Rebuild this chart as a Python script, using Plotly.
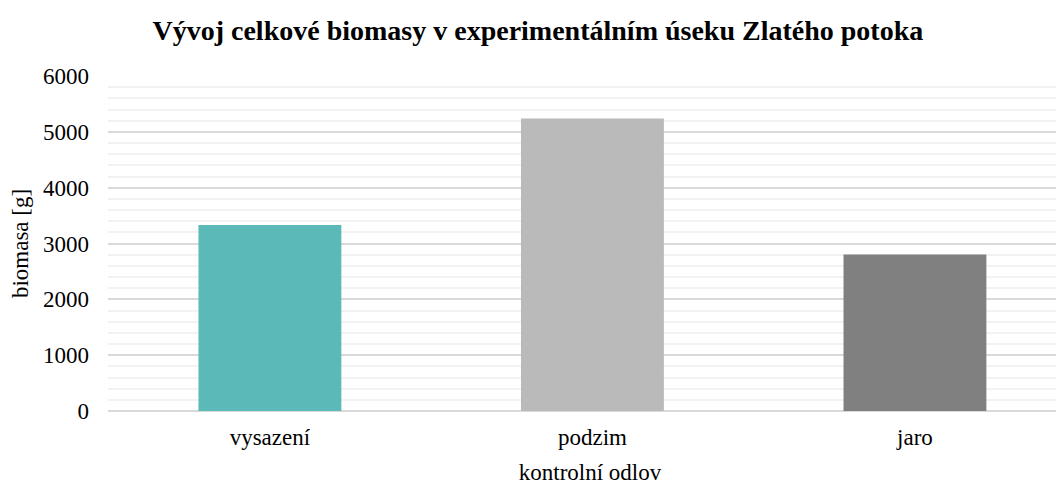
import plotly.graph_objects as go

categories = ["vysazení", "podzim", "jaro"]
biomass = [3330, 5240, 2805]
colors = ["#5BBAB7", "#BABABA", "#808080"]
y_ticks = [0, 1000, 2000, 3000, 4000, 5000, 6000]

FONT = "Liberation Serif"

fig = go.Figure(go.Bar(
    x=categories, y=biomass, marker=dict(color=colors, line=dict(width=0)),
))

fig.update_layout(
    width=1064, height=488,
    margin=dict(l=100, r=0, t=68, b=85),
    paper_bgcolor="white", plot_bgcolor="white",
    bargap=0.557,
    showlegend=False,
    font=dict(family=FONT, color="#000000", size=23),
    title=dict(
        text="<b>Vývoj celkové biomasy v experimentálním úseku Zlatého potoka</b>",
        x=0.498, xanchor="center", y=0.955, yanchor="middle",
        font=dict(family=FONT, size=28, color="#000000"),
    ),
    xaxis=dict(
        type="category", range=[-0.502, 2.487],
        showgrid=False, showline=False, ticks="",
        tickfont=dict(family=FONT, size=23),
        ticklabelstandoff=10,
        title=dict(text="kontrolní odlov", font=dict(family=FONT, size=23), standoff=14),
    ),
    yaxis=dict(
        range=[0, 6000], tickvals=y_ticks, ticktext=[str(v) for v in y_ticks],
        showgrid=True, gridcolor="#D9D9D9", gridwidth=1.5,
        minor=dict(dtick=200, showgrid=True, gridcolor="#F2F2F2", gridwidth=1.5),
        zeroline=True, zerolinecolor="#D9D9D9", zerolinewidth=1.5,
        showline=False, ticks="",
        tickfont=dict(family=FONT, size=23),
        ticklabelstandoff=18,
        title=dict(text="biomasa [g]", font=dict(family=FONT, size=23), standoff=12),
    ),
)

fig.write_html("out.html")
